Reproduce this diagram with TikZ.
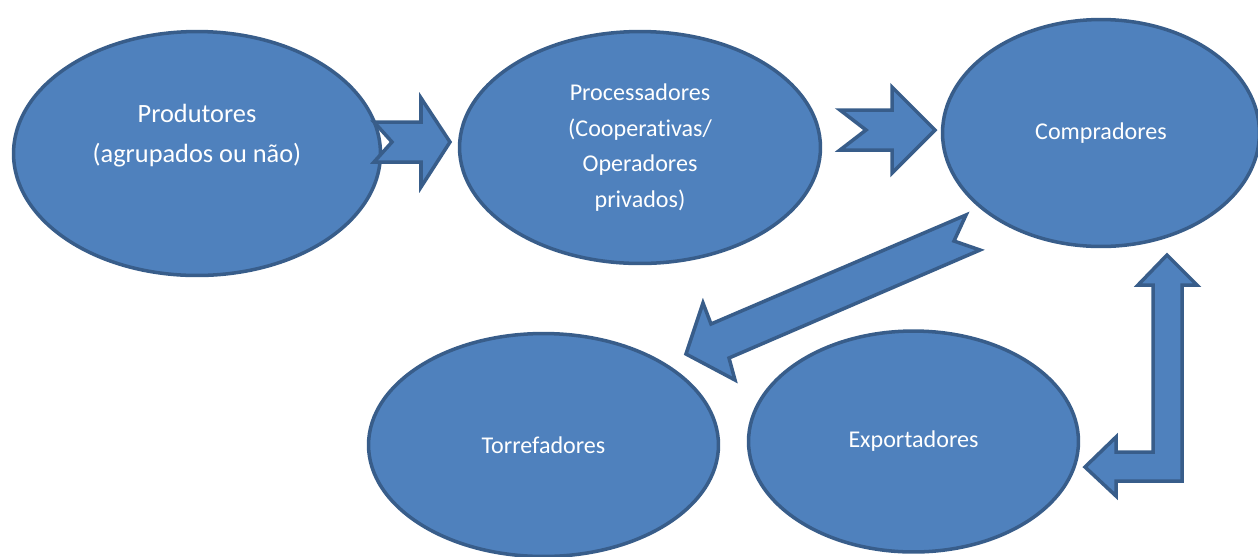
\documentclass[tikz,border=0pt]{standalone}
\usepackage{fontspec}
\setmainfont{Carlito}[Ligatures={CommonOff,ContextualOff,RequiredOff},Contextuals=AlternateOff]
\usetikzlibrary{shapes.geometric}
\definecolor{stagefill}{HTML}{4F81BD}
\definecolor{stageline}{HTML}{385D8A}
\begin{document}
\begin{tikzpicture}[x=0.02cm,y=-0.02cm,
    stage/.style={ellipse,draw=stageline,fill=stagefill,line width=2pt,
        text=white,align=center,inner sep=0pt,
        font=\fontsize{13.7}{20.3}\selectfont},
    flow/.style={draw=stageline,fill=stagefill,line width=2pt,line join=miter}]
    \useasboundingbox (0,0) rectangle (1258,556);

    % ellipses
    \node[stage,minimum width=7.34cm,minimum height=4.88cm,
        font=\fontsize{15}{22.8}\selectfont] (prod) at (197,153.5)
        {Produtores\\(agrupados ou não)\\\mbox{}};
    \node[stage,minimum width=7.22cm,minimum height=4.64cm] (proc) at (640,147.5)
        {Processadores\\(Cooperativas/\\Operadores\\privados)};
    \node[stage,minimum width=6.34cm,minimum height=4.54cm] (comp) at (1101,133)
        {Compradores};
    \node[stage,minimum width=7.0cm,minimum height=4.46cm] (torr) at (543.5,445)
        {Torrefadores};
    \node[stage,minimum width=6.6cm,minimum height=4.42cm] (expo) at (913.5,441.5)
        {Exportadores};

    % produtores -> processadores
    \draw[flow] (374,122) -- (421,122) -- (421,98) -- (450,142) -- (421,187)
        -- (421,162) -- (374,162) -- (392,142) -- cycle;

    % processadores -> compradores
    \draw[flow] (840,110) -- (892,110) -- (892,87) -- (935,130) -- (892,173)
        -- (892,150) -- (840,150) -- (866,130) -- cycle;

    % compradores -> torrefadores
    \draw[flow] (966,215) -- (711,324) -- (703,303) -- (686,354) -- (735,380)
        -- (729,358) -- (980,250) -- (954,241) -- cycle;

    % exportadores <-> compradores
    \draw[flow] (1167,255) -- (1197,285) -- (1182,285) -- (1182,481)
        -- (1116,481) -- (1116,496) -- (1085,467) -- (1116,437) -- (1116,452)
        -- (1153,452) -- (1153,285) -- (1138,285) -- cycle;
\end{tikzpicture}
\end{document}
